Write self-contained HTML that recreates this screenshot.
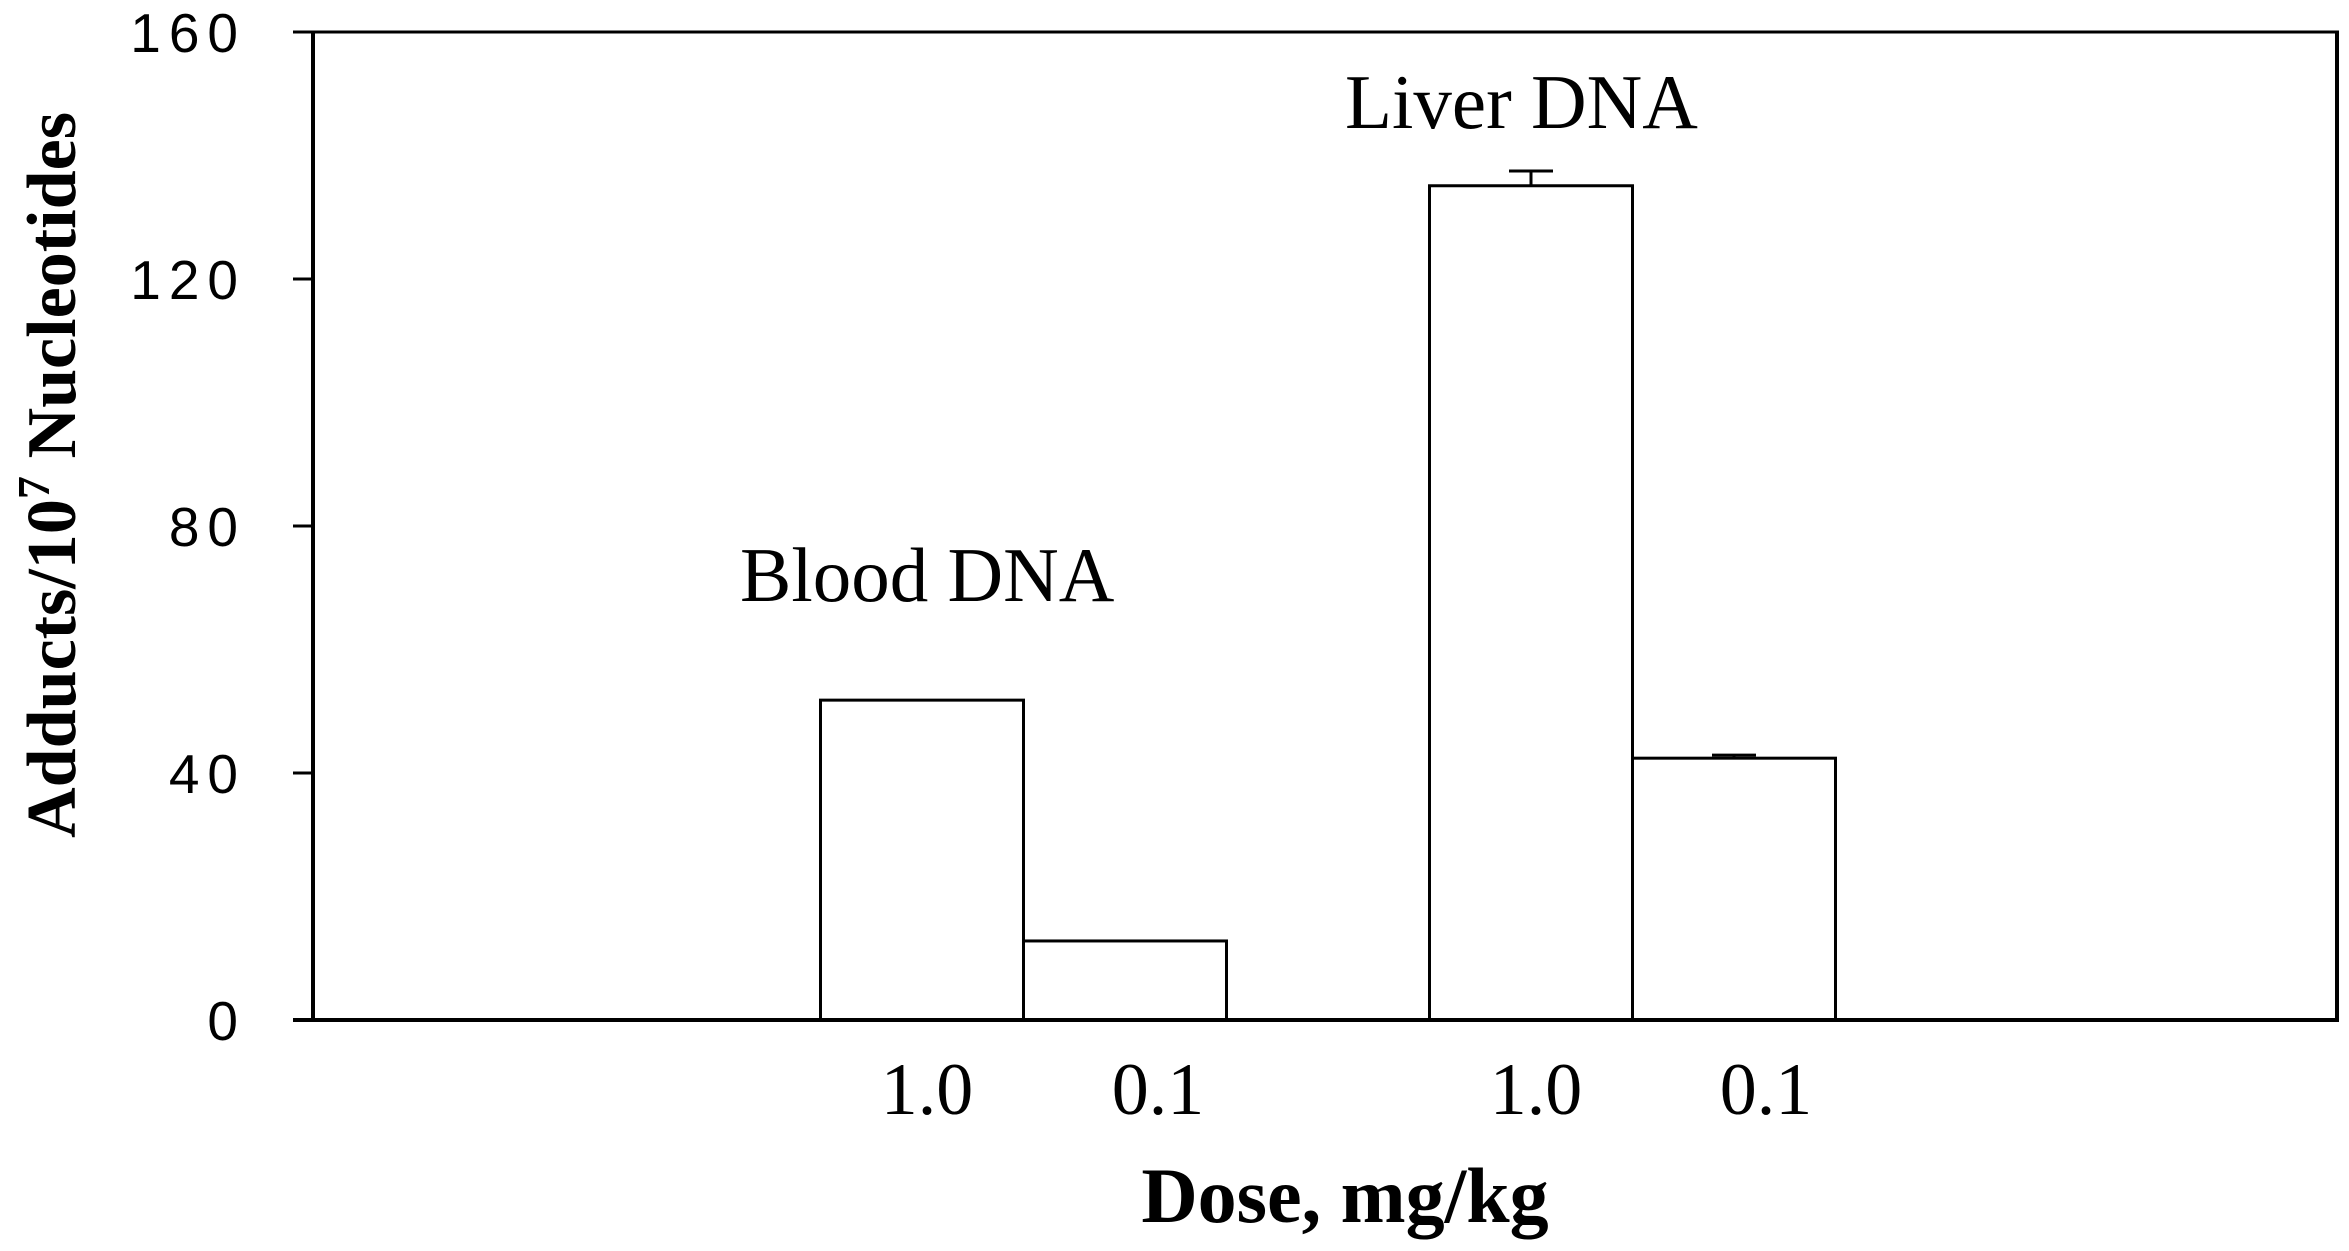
<!DOCTYPE html>
<html><head><meta charset="utf-8"><style>
html,body{margin:0;padding:0;background:#fff;}
svg{display:block;}
</style></head><body>
<svg id="chart" width="2349" height="1251" viewBox="0 0 2349 1251" xmlns="http://www.w3.org/2000/svg">
<rect width="2349" height="1251" fill="#fff"/>
<g id="plot"></g>
<text x="740" y="601" font-family="Liberation Serif, serif" font-size="77">Blood DNA</text>
<text x="1345" y="128" font-family="Liberation Serif, serif" font-size="77">Liver DNA</text>
<text x="1345" y="1222" text-anchor="middle" font-family="Liberation Serif, serif" font-weight="bold" font-size="78">Dose, mg/kg</text>
<text transform="translate(75,475) rotate(-90)" text-anchor="middle" font-family="Liberation Serif, serif" font-weight="bold" font-size="70" textLength="726" lengthAdjust="spacingAndGlyphs">Adducts/10<tspan dy="-26" font-size="46">7</tspan><tspan dy="26"> Nucleotides</tspan></text>
</svg>
<script>
const categories = ["1.0", "0.1", "1.0", "0.1"];
const groups = ["Blood DNA", "Blood DNA", "Liver DNA", "Liver DNA"];
const values = [51.8, 12.8, 135.1, 42.4];
const errors = [0, 0, 2.4, 0.5];
const slots = [3, 4, 6, 7];
const yTicks = [0, 40, 80, 120, 160];
const yTickLabels = ["0", "40", "80", "120", "160"];

const NS = "http://www.w3.org/2000/svg";
const plot = document.getElementById("plot");
const X0 = 313, X1 = 2337, Y0 = 1020, Y1 = 32, YMAX = 160, SLOT = 203;
const y = v => Y0 - (v / YMAX) * (Y0 - Y1);
const xc = s => X0 + SLOT * s;
const labelOffsets = [5, 33, 5, 32];

function mk(tag, attrs) {
  const e = document.createElementNS(NS, tag);
  for (const k in attrs) e.setAttribute(k, attrs[k]);
  plot.appendChild(e);
  return e;
}

let f = mk("line", {x1: X0, y1: Y1, x2: X1, y2: Y1, stroke: "#000", "stroke-width": 3});


f = mk("line", {x1: X1, y1: Y1 - 1.5, x2: X1, y2: Y0, stroke: "#000", "stroke-width": 4});



values.forEach((v, i) => {
  const c = xc(slots[i]);
  const r = mk("rect", {x: c - SLOT / 2, y: y(v), width: SLOT, height: Y0 - y(v), fill: "#fff", stroke: "#000", "stroke-width": 3});
  
  
  if (errors[i] > 0) {
    const e1 = mk("line", {x1: c, y1: y(v), x2: c, y2: y(v + errors[i]), stroke: "#000", "stroke-width": 3});
    
    
    const e2 = mk("line", {x1: c - 22, y1: y(v + errors[i]), x2: c + 22, y2: y(v + errors[i]), stroke: "#000", "stroke-width": 3});
    
    
  }
  const t = mk("text", {x: c + labelOffsets[i], y: 1114, "text-anchor": "middle", "font-family": "Liberation Serif, serif", "font-size": 74});
  t.textContent = categories[i];
  
  
});

let a = mk("line", {x1: 293, y1: Y0, x2: X1 + 2, y2: Y0, stroke: "#000", "stroke-width": 4});


a = mk("line", {x1: X0, y1: Y1 - 1.5, x2: X0, y2: Y0 + 2, stroke: "#000", "stroke-width": 4});



yTicks.forEach((v, i) => {
  const tk = mk("line", {x1: 293, y1: y(v), x2: X0, y2: y(v), stroke: "#000", "stroke-width": 3});
  
  
  const t = mk("text", {x: 246, y: y(v) + 20, "text-anchor": "end", "font-family": "Liberation Sans, sans-serif", "font-size": 55, "letter-spacing": 8});
  t.textContent = yTickLabels[i];
  
  
});
</script>
</body></html>
